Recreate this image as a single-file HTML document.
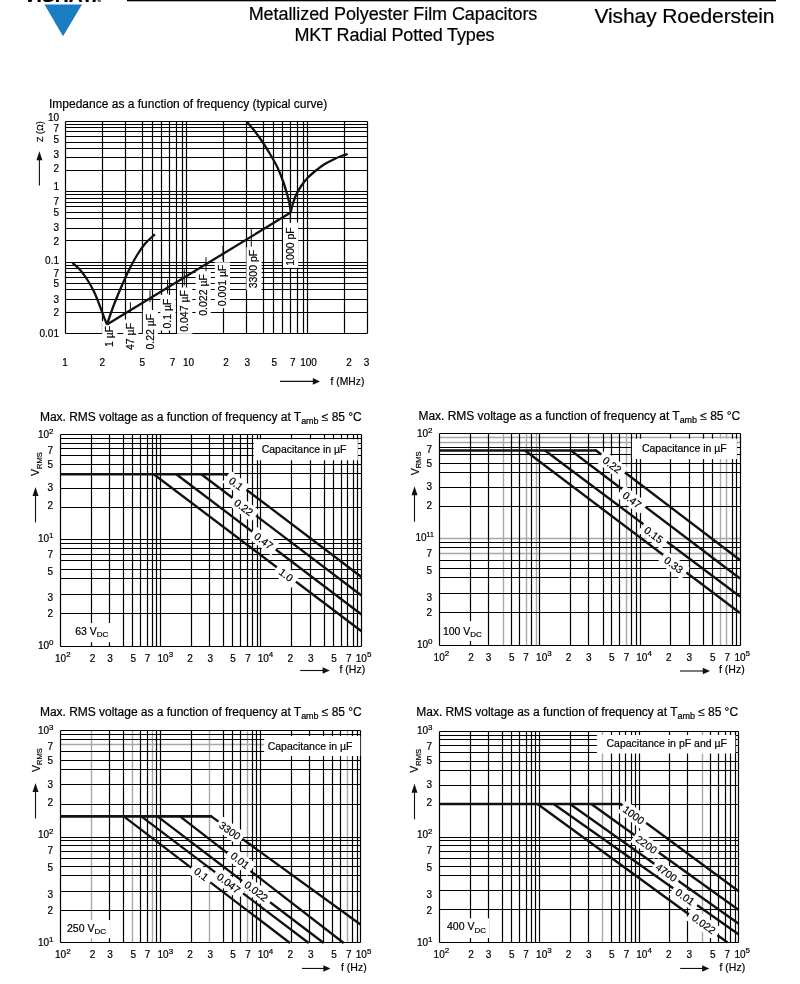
<!DOCTYPE html>
<html lang="en"><head><meta charset="utf-8"><title>Metallized Polyester Film Capacitors - MKT Radial Potted Types</title>
<style>
html,body{margin:0;padding:0;background:#fff;}
body{width:800px;height:984px;overflow:hidden;}
svg{display:block;font-family:'Liberation Sans', sans-serif;fill:#000;}
text{stroke:#000;stroke-width:0.2px;}
</style></head><body>
<svg width="800" height="984" viewBox="0 0 800 984">
<rect width="800" height="984" fill="#fff"/>
<rect x="127" y="0" width="649" height="1.3" fill="#000"/>
<path d="M44.5 4.5H82L63 36.3Z" fill="#1a7dc4"/>
<text x="23.5" y="2" font-size="18.5" font-weight="bold" textLength="73.5" lengthAdjust="spacingAndGlyphs" fill="#000">VISHAY.</text>
<text x="97.5" y="2.2" font-size="5">®</text>
<text x="248.7" y="19.6" font-size="18" text-anchor="start" textLength="288.6">Metallized Polyester Film Capacitors</text>
<text x="294.5" y="40.6" font-size="18" text-anchor="start" textLength="200">MKT Radial Potted Types</text>
<text x="594.5" y="22.6" font-size="21" text-anchor="start" textLength="180">Vishay Roederstein</text>
<text x="49" y="108" font-size="12" text-anchor="start">Impedance as a function of frequency (typical curve)</text>
<path d="M65.5 121.5V333.5M102.5 121.5V333.5M125.5 121.5V333.5M142.5 121.5V333.5M152.5 121.5V333.5M161.5 121.5V333.5M169.5 121.5V333.5M176.5 121.5V333.5M182.5 121.5V333.5M186.5 121.5V333.5M223.5 121.5V333.5M246.5 121.5V333.5M263.5 121.5V333.5M273.5 121.5V333.5M282.5 121.5V333.5M290.5 121.5V333.5M297.5 121.5V333.5M303.5 121.5V333.5M307.5 121.5V333.5M344.5 121.5V333.5M367.5 121.5V333.5M65.5 191.5H367.5M65.5 170.5H367.5M65.5 157.5H367.5M65.5 148.5H367.5M65.5 142.5H367.5M65.5 136.5H367.5M65.5 131.5H367.5M65.5 127.5H367.5M65.5 124.5H367.5M65.5 262.5H367.5M65.5 240.5H367.5M65.5 228.5H367.5M65.5 218.5H367.5M65.5 212.5H367.5M65.5 206.5H367.5M65.5 202.5H367.5M65.5 198.5H367.5M65.5 194.5H367.5M65.5 333.5H367.5M65.5 312.5H367.5M65.5 299.5H367.5M65.5 289.5H367.5M65.5 283.5H367.5M65.5 277.5H367.5M65.5 272.5H367.5M65.5 268.5H367.5M65.5 265.5H367.5M65.5 121.5H367.5" stroke="#000" stroke-width="1.2" fill="none"/>
<text x="59" y="120.95" font-size="10" text-anchor="end">10</text>
<text x="59" y="132.25" font-size="10" text-anchor="end">7</text>
<text x="59" y="142.65" font-size="10" text-anchor="end">5</text>
<text x="59" y="158.35" font-size="10" text-anchor="end">3</text>
<text x="59" y="172.15" font-size="10" text-anchor="end">2</text>
<text x="59" y="189.95" font-size="10" text-anchor="end">1</text>
<text x="59" y="205.45" font-size="10" text-anchor="end">7</text>
<text x="59" y="216.15" font-size="10" text-anchor="end">5</text>
<text x="59" y="231.15" font-size="10" text-anchor="end">3</text>
<text x="59" y="245.45" font-size="10" text-anchor="end">2</text>
<text x="59" y="264.15" font-size="10" text-anchor="end">0.1</text>
<text x="59" y="276.95" font-size="10" text-anchor="end">7</text>
<text x="59" y="287.05" font-size="10" text-anchor="end">5</text>
<text x="59" y="302.75" font-size="10" text-anchor="end">3</text>
<text x="59" y="316.45" font-size="10" text-anchor="end">2</text>
<text x="59" y="337.45" font-size="10" text-anchor="end">0.01</text>
<text x="43" y="141.9" font-size="9" text-anchor="start" transform="rotate(-90 43 141.9)">Z (Ω)</text>
<path d="M39.4 185.6V156.3" stroke="#111" stroke-width="1.1" fill="none"/>
<path d="M39.4 151.3L36.4 160.3L42.4 160.3Z" fill="#111"/>
<text x="65" y="366" font-size="10" text-anchor="middle">1</text>
<text x="102.4" y="366" font-size="10" text-anchor="middle">2</text>
<text x="142.3" y="366" font-size="10" text-anchor="middle">5</text>
<text x="172.5" y="366" font-size="10" text-anchor="middle">7</text>
<text x="188.5" y="366" font-size="10" text-anchor="middle">10</text>
<text x="226" y="366" font-size="10" text-anchor="middle">2</text>
<text x="247.3" y="366" font-size="10" text-anchor="middle">3</text>
<text x="274.3" y="366" font-size="10" text-anchor="middle">5</text>
<text x="292.7" y="366" font-size="10" text-anchor="middle">7</text>
<text x="308.5" y="366" font-size="10" text-anchor="middle">100</text>
<text x="349" y="366" font-size="10" text-anchor="middle">2</text>
<text x="366.5" y="366" font-size="10" text-anchor="middle">3</text>
<path d="M280 381.4H315" stroke="#111" stroke-width="1.1" fill="none"/>
<path d="M320 381.4L312.8 378.1L312.8 384.7Z" fill="#111"/>
<text x="330.6" y="384.6" font-size="10.3" text-anchor="start">f (MHz)</text>
<rect x="102.1" y="321" width="15.2" height="28" fill="#fff"/>
<rect x="123.2" y="319.5" width="15.2" height="32.5" fill="#fff"/>
<rect x="142.8" y="310" width="15.2" height="41.6" fill="#fff"/>
<rect x="160.3" y="294.9" width="15.2" height="35.6" fill="#fff"/>
<rect x="177.1" y="287.5" width="15.2" height="46.3" fill="#fff"/>
<rect x="195.6" y="271" width="15.2" height="46.8" fill="#fff"/>
<rect x="214.8" y="262.3" width="15.2" height="45.9" fill="#fff"/>
<rect x="246.4" y="247.3" width="15.2" height="43" fill="#fff"/>
<rect x="283" y="222.5" width="15.2" height="45.3" fill="#fff"/>
<path d="M72.4 262.8C73.77 264.07 78.08 267.53 80.6 270.4C83.12 273.27 85.2 276.33 87.5 280C89.8 283.67 92.33 288.05 94.4 292.4C96.47 296.75 98.3 301.98 99.9 306.1C101.5 310.22 102.82 314.03 104 317.1C105.18 320.17 106.5 323.27 107 324.5" stroke="#111" stroke-width="2.3" fill="none" stroke-linejoin="round"/>
<path d="M107 324.5C107.65 322.58 109.57 316.75 110.9 313C112.23 309.25 113.17 306.58 115 302C116.83 297.42 119.61 290.77 121.9 285.5C124.19 280.23 126.23 275.44 128.75 270.4C131.27 265.36 134.25 259.72 137 255.25C139.75 250.78 142.27 247.09 145.25 243.6C148.23 240.11 153.29 235.85 154.9 234.3" stroke="#111" stroke-width="2.3" fill="none" stroke-linejoin="round"/>
<path d="M107 324.5L290.7 212.6" stroke="#111" stroke-width="2.3" fill="none" stroke-linejoin="round"/>
<path d="M246.75 121.75C248.12 123.38 252.38 128.12 255 131.5C257.62 134.88 260 138.25 262.5 142C265 145.75 267.5 149.75 270 154C272.5 158.25 275.25 162.75 277.5 167.5C279.75 172.25 281.75 177.5 283.5 182.5C285.25 187.5 286.88 193.25 288 197.5C289.12 201.75 289.8 205.48 290.25 208C290.7 210.52 290.62 211.83 290.7 212.6" stroke="#111" stroke-width="2.3" fill="none" stroke-linejoin="round"/>
<path d="M290.7 212.6C291 211.33 291.57 208.02 292.5 205C293.43 201.98 294.75 197.75 296.25 194.5C297.75 191.25 299.62 188.25 301.5 185.5C303.38 182.75 305.25 180.38 307.5 178C309.75 175.62 312.25 173.5 315 171.25C317.75 169 321 166.43 324 164.5C327 162.57 330 161.15 333 159.7C336 158.25 339.55 156.75 342 155.8C344.45 154.85 346.75 154.3 347.7 154" stroke="#111" stroke-width="2.3" fill="none" stroke-linejoin="round"/>
<path d="M130.4 302.25V313.25" stroke="#111" stroke-width="1" fill="none"/>
<path d="M150 290.31V302.31" stroke="#111" stroke-width="1" fill="none"/>
<path d="M167.5 279.65V293.65" stroke="#111" stroke-width="1" fill="none"/>
<path d="M184.3 269.41V285.41" stroke="#111" stroke-width="1" fill="none"/>
<path d="M206 257.19V271.19" stroke="#111" stroke-width="1" fill="none"/>
<path d="M223 245.84V259.84" stroke="#111" stroke-width="1" fill="none"/>
<path d="M251.3 228.6V246.6" stroke="#111" stroke-width="1" fill="none"/>
<path d="M290.3 212.84V222.84" stroke="#111" stroke-width="1" fill="none"/>
<text x="113.1" y="347" font-size="10.5" text-anchor="start" transform="rotate(-90 113.1 347)">1 µF</text>
<text x="134.2" y="350" font-size="10.5" text-anchor="start" transform="rotate(-90 134.2 350)">47 µF</text>
<text x="153.8" y="349.6" font-size="10.5" text-anchor="start" transform="rotate(-90 153.8 349.6)">0.22 µF</text>
<text x="171.3" y="328.5" font-size="10.5" text-anchor="start" transform="rotate(-90 171.3 328.5)">0.1 µF</text>
<text x="188.1" y="331.8" font-size="10.5" text-anchor="start" transform="rotate(-90 188.1 331.8)">0.047 µF</text>
<text x="206.6" y="315.8" font-size="10.5" text-anchor="start" transform="rotate(-90 206.6 315.8)">0.022 µF</text>
<text x="225.8" y="306.2" font-size="10.5" text-anchor="start" transform="rotate(-90 225.8 306.2)">0.001 µF</text>
<text x="257.4" y="288.3" font-size="10.5" text-anchor="start" transform="rotate(-90 257.4 288.3)">3300 pF</text>
<text x="294" y="265.8" font-size="10.5" text-anchor="start" transform="rotate(-90 294 265.8)">1000 pF</text>
<text x="40" y="421.2" font-size="12" text-anchor="start" letter-spacing="-0.03">Max. RMS voltage as a function of frequency at T<tspan dy="2.8" font-size="9">amb</tspan><tspan dy="-2.8"> ≤ 85 °C</tspan></text>
<path d="M60.5 434.5V646.5M91.5 434.5V646.5M109.5 434.5V646.5M123.5 434.5V646.5M132.5 434.5V646.5M140.5 434.5V646.5M147.5 434.5V646.5M152.5 434.5V646.5M156.5 434.5V646.5M160.5 434.5V646.5M191.5 434.5V646.5M209.5 434.5V646.5M223.5 434.5V646.5M232.5 434.5V646.5M240.5 434.5V646.5M247.5 434.5V646.5M252.5 434.5V646.5M257.5 434.5V646.5M260.5 434.5V646.5M291.5 434.5V646.5M310.5 434.5V646.5M324.5 434.5V646.5M333.5 434.5V646.5M341.5 434.5V646.5M347.5 434.5V646.5M353.5 434.5V646.5M357.5 434.5V646.5M361.5 434.5V646.5M60.5 539.5H361.5M60.5 507.5H361.5M60.5 488.5H361.5M60.5 473.5H361.5M60.5 464.5H361.5M60.5 455.5H361.5M60.5 448.5H361.5M60.5 443.5H361.5M60.5 438.5H361.5M60.5 646.5H361.5M60.5 613.5H361.5M60.5 594.5H361.5M60.5 578.5H361.5M60.5 569.5H361.5M60.5 560.5H361.5M60.5 554.5H361.5M60.5 548.5H361.5M60.5 543.5H361.5M60.5 434.5H361.5" stroke="#000" stroke-width="1.2" fill="none"/>
<text x="53.5" y="437.9" font-size="10" text-anchor="end">10<tspan dy="-4.3" font-size="8">2</tspan></text>
<text x="53" y="453.5" font-size="10" text-anchor="end">7</text>
<text x="53" y="467.5" font-size="10" text-anchor="end">5</text>
<text x="53" y="490.9" font-size="10" text-anchor="end">3</text>
<text x="53" y="509.1" font-size="10" text-anchor="end">2</text>
<text x="53.5" y="541.8" font-size="10" text-anchor="end">10<tspan dy="-4.3" font-size="8">1</tspan></text>
<text x="53" y="557.5" font-size="10" text-anchor="end">7</text>
<text x="53" y="575" font-size="10" text-anchor="end">5</text>
<text x="53" y="601.4" font-size="10" text-anchor="end">3</text>
<text x="53" y="616.6" font-size="10" text-anchor="end">2</text>
<text x="53.5" y="648.8" font-size="10" text-anchor="end">10<tspan dy="-4.3" font-size="8">0</tspan></text>
<text x="39.5" y="475.9" font-size="10.5" text-anchor="start" transform="rotate(-90 39.5 475.9)">V<tspan dy="2.5" font-size="7.5">RMS</tspan></text>
<path d="M35.5 522.4V491.9" stroke="#111" stroke-width="1.1" fill="none"/>
<path d="M35.5 486.9L32.5 495.9L38.5 495.9Z" fill="#111"/>
<text x="55" y="661.5" font-size="10" text-anchor="start">10<tspan dy="-4.3" font-size="8">2</tspan></text>
<text x="92.5" y="661.5" font-size="10" text-anchor="middle">2</text>
<text x="110" y="661.5" font-size="10" text-anchor="middle">3</text>
<text x="133.25" y="661.5" font-size="10" text-anchor="middle">5</text>
<text x="147.5" y="661.5" font-size="10" text-anchor="middle">7</text>
<text x="157.5" y="661.5" font-size="10" text-anchor="start">10<tspan dy="-4.3" font-size="8">3</tspan></text>
<text x="190" y="661.5" font-size="10" text-anchor="middle">2</text>
<text x="210.3" y="661.5" font-size="10" text-anchor="middle">3</text>
<text x="233.1" y="661.5" font-size="10" text-anchor="middle">5</text>
<text x="248" y="661.5" font-size="10" text-anchor="middle">7</text>
<text x="257.7" y="661.5" font-size="10" text-anchor="start">10<tspan dy="-4.3" font-size="8">4</tspan></text>
<text x="290.3" y="661.5" font-size="10" text-anchor="middle">2</text>
<text x="310.75" y="661.5" font-size="10" text-anchor="middle">3</text>
<text x="334.1" y="661.5" font-size="10" text-anchor="middle">5</text>
<text x="348.75" y="661.5" font-size="10" text-anchor="middle">7</text>
<text x="355.8" y="661.5" font-size="10" text-anchor="start">10<tspan dy="-4.3" font-size="8">5</tspan></text>
<path d="M300.2 670.5H324.8" stroke="#111" stroke-width="1.1" fill="none"/>
<path d="M329.8 670.5L322.6 667.2L322.6 673.8Z" fill="#111"/>
<text x="339.5" y="673.25" font-size="10.5" text-anchor="start">f (Hz)</text>
<rect x="253.7" y="439.3" width="104.1" height="21" fill="#fff"/>
<rect x="68" y="623.1" width="43" height="19.2" fill="#fff"/>
<path d="M60.5 474.2H226" stroke="#111" stroke-width="2.6" fill="none" stroke-linejoin="round"/>
<path d="M226 474.2L361.5 577" stroke="#111" stroke-width="2.35" fill="none" stroke-linejoin="round"/>
<path d="M201.3 474.2L361.5 595.5" stroke="#111" stroke-width="2.35" fill="none" stroke-linejoin="round"/>
<path d="M176.3 474.2L361.5 614.5" stroke="#111" stroke-width="2.35" fill="none" stroke-linejoin="round"/>
<path d="M153.7 474.2L361.5 631.3" stroke="#111" stroke-width="2.35" fill="none" stroke-linejoin="round"/>
<rect x="224.1" y="476.5" width="23.8" height="14.4" fill="#fff" transform="rotate(37.19 236 483.7)"/>
<rect x="229" y="500.3" width="29.4" height="14.4" fill="#fff" transform="rotate(37.13 243.7 507.5)"/>
<rect x="249" y="533.8" width="29.4" height="14.4" fill="#fff" transform="rotate(37.15 263.7 541)"/>
<rect x="274.1" y="567.8" width="23.8" height="14.4" fill="#fff" transform="rotate(37.09 286 575)"/>
<text x="236" y="487.4" font-size="10.5" text-anchor="middle" transform="rotate(37.19 236 483.7)">0.1</text>
<text x="243.7" y="511.2" font-size="10.5" text-anchor="middle" transform="rotate(37.13 243.7 507.5)">0.22</text>
<text x="263.7" y="544.7" font-size="10.5" text-anchor="middle" transform="rotate(37.15 263.7 541)">0.47</text>
<text x="286" y="578.7" font-size="10.5" text-anchor="middle" transform="rotate(37.09 286 575)">1.0</text>
<text x="261.7" y="453.3" font-size="10.5" text-anchor="start">Capacitance in µF</text>
<text x="75.2" y="634.8" font-size="10.5" text-anchor="start">63 V<tspan dy="2.5" font-size="8">DC</tspan></text>
<text x="418.5" y="420.1" font-size="12" text-anchor="start" letter-spacing="-0.03">Max. RMS voltage as a function of frequency at T<tspan dy="2.8" font-size="9">amb</tspan><tspan dy="-2.8"> ≤ 85 °C</tspan></text>
<path d="M503.5 433.5V645.5M526.5 433.5V645.5M536.5 433.5V645.5M626.5 433.5V645.5M720.5 433.5V645.5M726.5 433.5V645.5M439.5 538.5H740.5M439.5 442.5H740.5M439.5 437.5H740.5M439.5 553.5H740.5" stroke="#a8a8a8" stroke-width="1.4" fill="none"/>
<path d="M439.5 433.5V645.5M470.5 433.5V645.5M488.5 433.5V645.5M511.5 433.5V645.5M519.5 433.5V645.5M531.5 433.5V645.5M539.5 433.5V645.5M570.5 433.5V645.5M588.5 433.5V645.5M603.5 433.5V645.5M611.5 433.5V645.5M619.5 433.5V645.5M631.5 433.5V645.5M636.5 433.5V645.5M640.5 433.5V645.5M670.5 433.5V645.5M689.5 433.5V645.5M703.5 433.5V645.5M712.5 433.5V645.5M732.5 433.5V645.5M736.5 433.5V645.5M740.5 433.5V645.5M439.5 506.5H740.5M439.5 487.5H740.5M439.5 472.5H740.5M439.5 463.5H740.5M439.5 454.5H740.5M439.5 447.5H740.5M439.5 645.5H740.5M439.5 612.5H740.5M439.5 593.5H740.5M439.5 577.5H740.5M439.5 568.5H740.5M439.5 560.5H740.5M439.5 547.5H740.5M439.5 542.5H740.5M439.5 433.5H740.5" stroke="#000" stroke-width="1.2" fill="none"/>
<text x="432.5" y="437.1" font-size="10" text-anchor="end">10<tspan dy="-4.3" font-size="8">2</tspan></text>
<text x="432" y="452.6" font-size="10" text-anchor="end">7</text>
<text x="432" y="466.6" font-size="10" text-anchor="end">5</text>
<text x="432" y="490" font-size="10" text-anchor="end">3</text>
<text x="432" y="508.6" font-size="10" text-anchor="end">2</text>
<text x="433.9" y="541.4" font-size="10" text-anchor="end">10<tspan dy="-4.3" font-size="7">11</tspan></text>
<text x="432" y="557" font-size="10" text-anchor="end">7</text>
<text x="432" y="574.1" font-size="10" text-anchor="end">5</text>
<text x="432" y="600.7" font-size="10" text-anchor="end">3</text>
<text x="432" y="615.9" font-size="10" text-anchor="end">2</text>
<text x="432.5" y="648.1" font-size="10" text-anchor="end">10<tspan dy="-4.3" font-size="8">0</tspan></text>
<text x="418.5" y="475.25" font-size="10.5" text-anchor="start" transform="rotate(-90 418.5 475.25)">V<tspan dy="2.5" font-size="7.5">RMS</tspan></text>
<path d="M414.5 521.75V491.25" stroke="#111" stroke-width="1.1" fill="none"/>
<path d="M414.5 486.25L411.5 495.25L417.5 495.25Z" fill="#111"/>
<text x="433.6" y="660.5" font-size="10" text-anchor="start">10<tspan dy="-4.3" font-size="8">2</tspan></text>
<text x="471.1" y="660.5" font-size="10" text-anchor="middle">2</text>
<text x="488.6" y="660.5" font-size="10" text-anchor="middle">3</text>
<text x="511.85" y="660.5" font-size="10" text-anchor="middle">5</text>
<text x="526.1" y="660.5" font-size="10" text-anchor="middle">7</text>
<text x="536.1" y="660.5" font-size="10" text-anchor="start">10<tspan dy="-4.3" font-size="8">3</tspan></text>
<text x="568.6" y="660.5" font-size="10" text-anchor="middle">2</text>
<text x="588.9" y="660.5" font-size="10" text-anchor="middle">3</text>
<text x="611.7" y="660.5" font-size="10" text-anchor="middle">5</text>
<text x="626.6" y="660.5" font-size="10" text-anchor="middle">7</text>
<text x="636.3" y="660.5" font-size="10" text-anchor="start">10<tspan dy="-4.3" font-size="8">4</tspan></text>
<text x="668.9" y="660.5" font-size="10" text-anchor="middle">2</text>
<text x="689.35" y="660.5" font-size="10" text-anchor="middle">3</text>
<text x="712.7" y="660.5" font-size="10" text-anchor="middle">5</text>
<text x="727.35" y="660.5" font-size="10" text-anchor="middle">7</text>
<text x="734.4" y="660.5" font-size="10" text-anchor="start">10<tspan dy="-4.3" font-size="8">5</tspan></text>
<path d="M680 671H705" stroke="#111" stroke-width="1.1" fill="none"/>
<path d="M710 671L702.8 667.7L702.8 674.3Z" fill="#111"/>
<text x="719" y="673.25" font-size="10.5" text-anchor="start">f (Hz)</text>
<rect x="631.9" y="438.65" width="105" height="20.45" fill="#fff"/>
<rect x="441" y="621" width="45" height="20" fill="#fff"/>
<path d="M439.5 450.5H597" stroke="#111" stroke-width="2.6" fill="none" stroke-linejoin="round"/>
<path d="M596 450.5L740 560" stroke="#111" stroke-width="2.35" fill="none" stroke-linejoin="round"/>
<path d="M571 450.5L740 578.5" stroke="#111" stroke-width="2.35" fill="none" stroke-linejoin="round"/>
<path d="M545 450.5L740 596.5" stroke="#111" stroke-width="2.35" fill="none" stroke-linejoin="round"/>
<path d="M525 450.5L740 613" stroke="#111" stroke-width="2.35" fill="none" stroke-linejoin="round"/>
<rect x="597.3" y="457.8" width="29.4" height="14.4" fill="#fff" transform="rotate(37.25 612 465)"/>
<rect x="617.3" y="492.8" width="29.4" height="14.4" fill="#fff" transform="rotate(37.14 632 500)"/>
<rect x="639" y="527.8" width="29.4" height="14.4" fill="#fff" transform="rotate(36.82 653.7 535)"/>
<rect x="659" y="557.8" width="29.4" height="14.4" fill="#fff" transform="rotate(37.08 673.7 565)"/>
<text x="612" y="468.7" font-size="10.5" text-anchor="middle" transform="rotate(37.25 612 465)">0.22</text>
<text x="632" y="503.7" font-size="10.5" text-anchor="middle" transform="rotate(37.14 632 500)">0.47</text>
<text x="653.7" y="538.7" font-size="10.5" text-anchor="middle" transform="rotate(36.82 653.7 535)">0.15</text>
<text x="673.7" y="568.7" font-size="10.5" text-anchor="middle" transform="rotate(37.08 673.7 565)">0.33</text>
<text x="641.9" y="452.1" font-size="10.5" text-anchor="start">Capacitance in µF</text>
<text x="442.9" y="634.8" font-size="10.5" text-anchor="start">100 V<tspan dy="2.5" font-size="8">DC</tspan></text>
<text x="40" y="716.3" font-size="12" text-anchor="start" letter-spacing="-0.03">Max. RMS voltage as a function of frequency at T<tspan dy="2.8" font-size="9">amb</tspan><tspan dy="-2.8"> ≤ 85 °C</tspan></text>
<path d="M91.5 730.5V942.5M132.5 730.5V942.5M152.5 730.5V942.5M209.5 730.5V942.5M247.5 730.5V942.5M347.5 730.5V942.5M60.5 744.5H360.5" stroke="#a8a8a8" stroke-width="1.4" fill="none"/>
<path d="M60.5 730.5V942.5M109.5 730.5V942.5M123.5 730.5V942.5M140.5 730.5V942.5M147.5 730.5V942.5M156.5 730.5V942.5M160.5 730.5V942.5M191.5 730.5V942.5M223.5 730.5V942.5M232.5 730.5V942.5M240.5 730.5V942.5M252.5 730.5V942.5M256.5 730.5V942.5M260.5 730.5V942.5M291.5 730.5V942.5M309.5 730.5V942.5M323.5 730.5V942.5M332.5 730.5V942.5M340.5 730.5V942.5M352.5 730.5V942.5M357.5 730.5V942.5M360.5 730.5V942.5M60.5 837.5H360.5M60.5 804.5H360.5M60.5 784.5H360.5M60.5 769.5H360.5M60.5 760.5H360.5M60.5 751.5H360.5M60.5 739.5H360.5M60.5 734.5H360.5M60.5 942.5H360.5M60.5 910.5H360.5M60.5 891.5H360.5M60.5 875.5H360.5M60.5 866.5H360.5M60.5 858.5H360.5M60.5 851.5H360.5M60.5 845.5H360.5M60.5 840.5H360.5M60.5 730.5H360.5" stroke="#000" stroke-width="1.2" fill="none"/>
<text x="53.5" y="734.1" font-size="10" text-anchor="end">10<tspan dy="-4.3" font-size="8">3</tspan></text>
<text x="53" y="750" font-size="10" text-anchor="end">7</text>
<text x="53" y="764.1" font-size="10" text-anchor="end">5</text>
<text x="53" y="787.9" font-size="10" text-anchor="end">3</text>
<text x="53" y="806.1" font-size="10" text-anchor="end">2</text>
<text x="53.5" y="838.1" font-size="10" text-anchor="end">10<tspan dy="-4.3" font-size="8">2</tspan></text>
<text x="53" y="854" font-size="10" text-anchor="end">7</text>
<text x="53" y="871.1" font-size="10" text-anchor="end">5</text>
<text x="53" y="898.4" font-size="10" text-anchor="end">3</text>
<text x="53" y="913.6" font-size="10" text-anchor="end">2</text>
<text x="53.5" y="945.8" font-size="10" text-anchor="end">10<tspan dy="-4.3" font-size="8">1</tspan></text>
<text x="39.5" y="772" font-size="10.5" text-anchor="start" transform="rotate(-90 39.5 772)">V<tspan dy="2.5" font-size="7.5">RMS</tspan></text>
<path d="M35.5 818.5V788" stroke="#111" stroke-width="1.1" fill="none"/>
<path d="M35.5 783L32.5 792L38.5 792Z" fill="#111"/>
<text x="55" y="957.8" font-size="10" text-anchor="start">10<tspan dy="-4.3" font-size="8">2</tspan></text>
<text x="92.5" y="957.8" font-size="10" text-anchor="middle">2</text>
<text x="110" y="957.8" font-size="10" text-anchor="middle">3</text>
<text x="133.25" y="957.8" font-size="10" text-anchor="middle">5</text>
<text x="147.5" y="957.8" font-size="10" text-anchor="middle">7</text>
<text x="157.5" y="957.8" font-size="10" text-anchor="start">10<tspan dy="-4.3" font-size="8">3</tspan></text>
<text x="190" y="957.8" font-size="10" text-anchor="middle">2</text>
<text x="210.3" y="957.8" font-size="10" text-anchor="middle">3</text>
<text x="233.1" y="957.8" font-size="10" text-anchor="middle">5</text>
<text x="248" y="957.8" font-size="10" text-anchor="middle">7</text>
<text x="257.7" y="957.8" font-size="10" text-anchor="start">10<tspan dy="-4.3" font-size="8">4</tspan></text>
<text x="290.3" y="957.8" font-size="10" text-anchor="middle">2</text>
<text x="310.75" y="957.8" font-size="10" text-anchor="middle">3</text>
<text x="334.1" y="957.8" font-size="10" text-anchor="middle">5</text>
<text x="348.75" y="957.8" font-size="10" text-anchor="middle">7</text>
<text x="355.8" y="957.8" font-size="10" text-anchor="start">10<tspan dy="-4.3" font-size="8">5</tspan></text>
<path d="M302 968.45H325.5" stroke="#111" stroke-width="1.1" fill="none"/>
<path d="M330.5 968.45L323.3 965.15L323.3 971.75Z" fill="#111"/>
<text x="341" y="971.3" font-size="10.5" text-anchor="start">f (Hz)</text>
<rect x="264.15" y="736" width="96.1" height="20.1" fill="#fff"/>
<rect x="63" y="920.1" width="47.5" height="18.2" fill="#fff"/>
<path d="M60.5 816.4H212" stroke="#111" stroke-width="2.6" fill="none" stroke-linejoin="round"/>
<path d="M211.3 816.4L360.5 924.5" stroke="#111" stroke-width="2.35" fill="none" stroke-linejoin="round"/>
<path d="M180 816.4L343.7 943" stroke="#111" stroke-width="2.35" fill="none" stroke-linejoin="round"/>
<path d="M157.5 816.4L323.7 943" stroke="#111" stroke-width="2.35" fill="none" stroke-linejoin="round"/>
<path d="M141.3 816.4L308.7 943" stroke="#111" stroke-width="2.35" fill="none" stroke-linejoin="round"/>
<path d="M123.7 816.4L290 943" stroke="#111" stroke-width="2.35" fill="none" stroke-linejoin="round"/>
<rect x="215.3" y="823.5" width="29.4" height="14.4" fill="#fff" transform="rotate(35.92 230 830.7)"/>
<rect x="225.3" y="853.3" width="29.4" height="14.4" fill="#fff" transform="rotate(37.72 240 860.5)"/>
<rect x="238.8" y="884.1" width="35" height="14.4" fill="#fff" transform="rotate(37.3 256.3 891.3)"/>
<rect x="211.2" y="876.1" width="35" height="14.4" fill="#fff" transform="rotate(37.1 228.7 883.3)"/>
<rect x="189.4" y="867.1" width="23.8" height="14.4" fill="#fff" transform="rotate(37.28 201.3 874.3)"/>
<text x="230" y="834.4" font-size="10.5" text-anchor="middle" transform="rotate(35.92 230 830.7)">3300</text>
<text x="240" y="864.2" font-size="10.5" text-anchor="middle" transform="rotate(37.72 240 860.5)">0.01</text>
<text x="256.3" y="895" font-size="10.5" text-anchor="middle" transform="rotate(37.3 256.3 891.3)">0.022</text>
<text x="228.7" y="887" font-size="10.5" text-anchor="middle" transform="rotate(37.1 228.7 883.3)">0.047</text>
<text x="201.3" y="878" font-size="10.5" text-anchor="middle" transform="rotate(37.28 201.3 874.3)">0.1</text>
<text x="267.65" y="750.4" font-size="10.5" text-anchor="start">Capacitance in µF</text>
<text x="67" y="931.8" font-size="10.5" text-anchor="start">250 V<tspan dy="2.5" font-size="8">DC</tspan></text>
<text x="416.3" y="716.4" font-size="12" text-anchor="start" letter-spacing="-0.03">Max. RMS voltage as a function of frequency at T<tspan dy="2.8" font-size="9">amb</tspan><tspan dy="-2.8"> ≤ 85 °C</tspan></text>
<path d="M602.5 731.5V942.5M702.5 731.5V942.5" stroke="#a8a8a8" stroke-width="1.4" fill="none"/>
<path d="M439.5 731.5V942.5M470.5 731.5V942.5M488.5 731.5V942.5M502.5 731.5V942.5M511.5 731.5V942.5M519.5 731.5V942.5M526.5 731.5V942.5M531.5 731.5V942.5M535.5 731.5V942.5M539.5 731.5V942.5M570.5 731.5V942.5M588.5 731.5V942.5M611.5 731.5V942.5M619.5 731.5V942.5M625.5 731.5V942.5M631.5 731.5V942.5M635.5 731.5V942.5M639.5 731.5V942.5M669.5 731.5V942.5M687.5 731.5V942.5M710.5 731.5V942.5M718.5 731.5V942.5M725.5 731.5V942.5M730.5 731.5V942.5M735.5 731.5V942.5M738.5 731.5V942.5M439.5 837.5H738.5M439.5 804.5H738.5M439.5 785.5H738.5M439.5 770.5H738.5M439.5 761.5H738.5M439.5 752.5H738.5M439.5 745.5H738.5M439.5 739.5H738.5M439.5 735.5H738.5M439.5 942.5H738.5M439.5 909.5H738.5M439.5 890.5H738.5M439.5 875.5H738.5M439.5 866.5H738.5M439.5 858.5H738.5M439.5 851.5H738.5M439.5 845.5H738.5M439.5 840.5H738.5M439.5 731.5H738.5" stroke="#000" stroke-width="1.2" fill="none"/>
<text x="432.5" y="734.1" font-size="10" text-anchor="end">10<tspan dy="-4.3" font-size="8">3</tspan></text>
<text x="432" y="749.6" font-size="10" text-anchor="end">7</text>
<text x="432" y="763.6" font-size="10" text-anchor="end">5</text>
<text x="432" y="787.9" font-size="10" text-anchor="end">3</text>
<text x="432" y="806.1" font-size="10" text-anchor="end">2</text>
<text x="432.5" y="838.1" font-size="10" text-anchor="end">10<tspan dy="-4.3" font-size="8">2</tspan></text>
<text x="432" y="854" font-size="10" text-anchor="end">7</text>
<text x="432" y="871.1" font-size="10" text-anchor="end">5</text>
<text x="432" y="898.4" font-size="10" text-anchor="end">3</text>
<text x="432" y="913.6" font-size="10" text-anchor="end">2</text>
<text x="432.5" y="945.8" font-size="10" text-anchor="end">10<tspan dy="-4.3" font-size="8">1</tspan></text>
<text x="418.5" y="772.8" font-size="10.5" text-anchor="start" transform="rotate(-90 418.5 772.8)">V<tspan dy="2.5" font-size="7.5">RMS</tspan></text>
<path d="M414.5 819.3V788.8" stroke="#111" stroke-width="1.1" fill="none"/>
<path d="M414.5 783.8L411.5 792.8L417.5 792.8Z" fill="#111"/>
<text x="433.6" y="957.5" font-size="10" text-anchor="start">10<tspan dy="-4.3" font-size="8">2</tspan></text>
<text x="471.1" y="957.5" font-size="10" text-anchor="middle">2</text>
<text x="488.6" y="957.5" font-size="10" text-anchor="middle">3</text>
<text x="511.85" y="957.5" font-size="10" text-anchor="middle">5</text>
<text x="526.1" y="957.5" font-size="10" text-anchor="middle">7</text>
<text x="536.1" y="957.5" font-size="10" text-anchor="start">10<tspan dy="-4.3" font-size="8">3</tspan></text>
<text x="568.6" y="957.5" font-size="10" text-anchor="middle">2</text>
<text x="588.9" y="957.5" font-size="10" text-anchor="middle">3</text>
<text x="611.7" y="957.5" font-size="10" text-anchor="middle">5</text>
<text x="626.6" y="957.5" font-size="10" text-anchor="middle">7</text>
<text x="636.3" y="957.5" font-size="10" text-anchor="start">10<tspan dy="-4.3" font-size="8">4</tspan></text>
<text x="668.9" y="957.5" font-size="10" text-anchor="middle">2</text>
<text x="689.35" y="957.5" font-size="10" text-anchor="middle">3</text>
<text x="712.7" y="957.5" font-size="10" text-anchor="middle">5</text>
<text x="727.35" y="957.5" font-size="10" text-anchor="middle">7</text>
<text x="734.4" y="957.5" font-size="10" text-anchor="start">10<tspan dy="-4.3" font-size="8">5</tspan></text>
<path d="M680.2 968.45H704.3" stroke="#111" stroke-width="1.1" fill="none"/>
<path d="M709.3 968.45L702.1 965.15L702.1 971.75Z" fill="#111"/>
<text x="719.5" y="971.3" font-size="10.5" text-anchor="start">f (Hz)</text>
<rect x="596.9" y="735" width="138.4" height="18.5" fill="#fff"/>
<rect x="443" y="918.3" width="46" height="19.8" fill="#fff"/>
<path d="M439.5 804H621.5" stroke="#111" stroke-width="2.6" fill="none" stroke-linejoin="round"/>
<path d="M620.5 804L738.75 891.3" stroke="#111" stroke-width="2.35" fill="none" stroke-linejoin="round"/>
<path d="M591.3 804L738.75 910" stroke="#111" stroke-width="2.35" fill="none" stroke-linejoin="round"/>
<path d="M570 804L738.75 923.7" stroke="#111" stroke-width="2.35" fill="none" stroke-linejoin="round"/>
<path d="M553.7 804L738.75 934.5" stroke="#111" stroke-width="2.35" fill="none" stroke-linejoin="round"/>
<path d="M537.5 804L727.5 942.5" stroke="#111" stroke-width="2.35" fill="none" stroke-linejoin="round"/>
<rect x="619" y="807.8" width="29.4" height="14.4" fill="#fff" transform="rotate(36.44 633.7 815)"/>
<rect x="631.6" y="837.3" width="29.4" height="14.4" fill="#fff" transform="rotate(35.71 646.3 844.5)"/>
<rect x="651.6" y="865.3" width="29.4" height="14.4" fill="#fff" transform="rotate(35.35 666.3 872.5)"/>
<rect x="670.3" y="889.8" width="29.4" height="14.4" fill="#fff" transform="rotate(35.19 685 897)"/>
<rect x="686.2" y="916.8" width="35" height="14.4" fill="#fff" transform="rotate(36.09 703.7 924)"/>
<text x="633.7" y="818.7" font-size="10.5" text-anchor="middle" transform="rotate(36.44 633.7 815)">1000</text>
<text x="646.3" y="848.2" font-size="10.5" text-anchor="middle" transform="rotate(35.71 646.3 844.5)">2200</text>
<text x="666.3" y="876.2" font-size="10.5" text-anchor="middle" transform="rotate(35.35 666.3 872.5)">4700</text>
<text x="685" y="900.7" font-size="10.5" text-anchor="middle" transform="rotate(35.19 685 897)">0.01</text>
<text x="703.7" y="927.7" font-size="10.5" text-anchor="middle" transform="rotate(36.09 703.7 924)">0.022</text>
<text x="606.5" y="747.2" font-size="10.5" text-anchor="start">Capacitance in pF and µF</text>
<text x="447" y="930.2" font-size="10.5" text-anchor="start">400 V<tspan dy="2.5" font-size="8">DC</tspan></text>
</svg>
</body></html>
